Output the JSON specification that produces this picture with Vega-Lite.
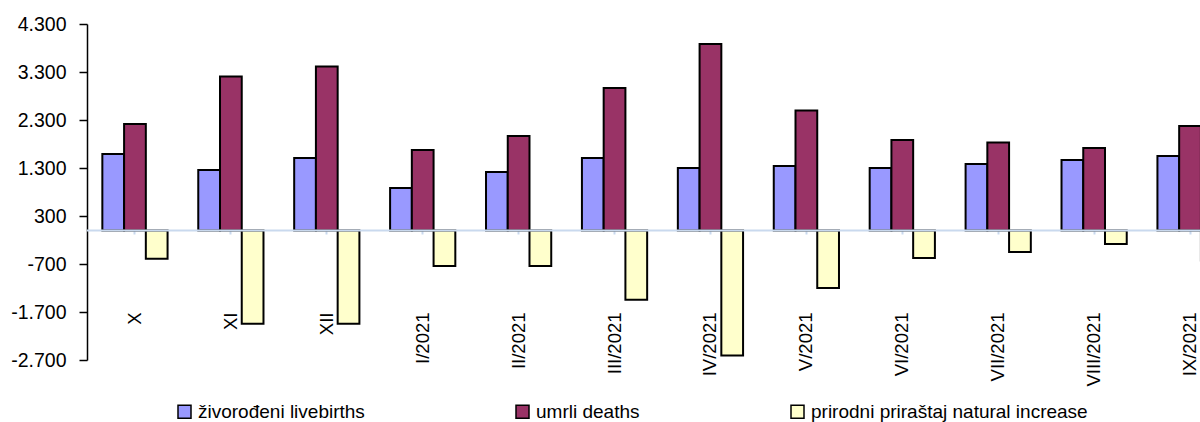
{
  "$schema": "https://vega.github.io/schema/vega-lite/v6.json",
  "width": 1113,
  "height": 336,
  "autosize": {"type": "none"},
  "padding": {"left": 87, "top": 24, "right": 0, "bottom": 62},
  "background": "white",
  "config": {
    "locale": {"number": {"decimal": ",", "thousands": ".", "grouping": [3], "currency": ["", ""], "minus": "-"}},
    "view": {"stroke": null},
    "font": "Liberation Sans"
  },
  "data": {
    "values": [
      {"month": "X", "series": "živorođeni livebirths", "value": 1590},
      {"month": "X", "series": "umrli deaths", "value": 2215},
      {"month": "X", "series": "prirodni priraštaj natural increase", "value": -590},
      {"month": "XI", "series": "živorođeni livebirths", "value": 1256},
      {"month": "XI", "series": "umrli deaths", "value": 3208},
      {"month": "XI", "series": "prirodni priraštaj natural increase", "value": -1944},
      {"month": "XII", "series": "živorođeni livebirths", "value": 1506},
      {"month": "XII", "series": "umrli deaths", "value": 3417},
      {"month": "XII", "series": "prirodni priraštaj natural increase", "value": -1944},
      {"month": "I/2021", "series": "živorođeni livebirths", "value": 881},
      {"month": "I/2021", "series": "umrli deaths", "value": 1673},
      {"month": "I/2021", "series": "prirodni priraštaj natural increase", "value": -743},
      {"month": "II/2021", "series": "živorođeni livebirths", "value": 1215},
      {"month": "II/2021", "series": "umrli deaths", "value": 1965},
      {"month": "II/2021", "series": "prirodni priraštaj natural increase", "value": -743},
      {"month": "III/2021", "series": "živorođeni livebirths", "value": 1506},
      {"month": "III/2021", "series": "umrli deaths", "value": 2965},
      {"month": "III/2021", "series": "prirodni priraštaj natural increase", "value": -1444},
      {"month": "IV/2021", "series": "živorođeni livebirths", "value": 1298},
      {"month": "IV/2021", "series": "umrli deaths", "value": 3881},
      {"month": "IV/2021", "series": "prirodni priraštaj natural increase", "value": -2604},
      {"month": "V/2021", "series": "živorođeni livebirths", "value": 1340},
      {"month": "V/2021", "series": "umrli deaths", "value": 2500},
      {"month": "V/2021", "series": "prirodni priraštaj natural increase", "value": -1202},
      {"month": "VI/2021", "series": "živorođeni livebirths", "value": 1298},
      {"month": "VI/2021", "series": "umrli deaths", "value": 1881},
      {"month": "VI/2021", "series": "prirodni priraštaj natural increase", "value": -577},
      {"month": "VII/2021", "series": "živorođeni livebirths", "value": 1381},
      {"month": "VII/2021", "series": "umrli deaths", "value": 1833},
      {"month": "VII/2021", "series": "prirodni priraštaj natural increase", "value": -452},
      {"month": "VIII/2021", "series": "živorođeni livebirths", "value": 1465},
      {"month": "VIII/2021", "series": "umrli deaths", "value": 1715},
      {"month": "VIII/2021", "series": "prirodni priraštaj natural increase", "value": -285},
      {"month": "IX/2021", "series": "živorođeni livebirths", "value": 1548},
      {"month": "IX/2021", "series": "umrli deaths", "value": 2173},
      {"month": "IX/2021", "series": "prirodni priraštaj natural increase", "value": -625}
    ]
  },
  "layer": [
    {
      "mark": {"type": "bar", "stroke": "black", "strokeWidth": 2, "clip": true},
      "encoding": {
        "x": {
          "field": "month",
          "type": "nominal",
          "sort": ["X", "XI", "XII", "I/2021", "II/2021", "III/2021", "IV/2021", "V/2021", "VI/2021", "VII/2021", "VIII/2021", "IX/2021"],
          "scale": {"range": [0, 1151], "paddingInner": 0.32, "paddingOuter": 0.16},
          "axis": {
            "orient": "bottom",
            "offset": -130,
            "title": null,
            "domain": false,
            "ticks": true,
            "tickColor": "#C9D9EE",
            "tickSize": 4,
            "tickWidth": 2,
            "labelAngle": -90,
            "labelAlign": "right",
            "labelBaseline": "middle",
            "labelPadding": 78,
            "labelFont": "Liberation Sans",
            "labelFontSize": 18.5,
            "labelColor": "black",
            "labelOverlap": false,
            "labelBound": false,
            "labelFlush": false,
            "labelLimit": 0
          }
        },
        "xOffset": {
          "field": "series",
          "sort": ["živorođeni livebirths", "umrli deaths", "prirodni priraštaj natural increase"],
          "scale": {"paddingInner": 0, "paddingOuter": 0}
        },
        "y": {
          "field": "value",
          "type": "quantitative",
          "scale": {"domain": [-2700, 4300], "nice": false, "zero": false},
          "axis": {
            "title": null,
            "values": [-2700, -1700, -700, 300, 1300, 2300, 3300, 4300],
            "format": ",d",
            "grid": false,
            "domain": true,
            "domainColor": "black",
            "domainWidth": 1.5,
            "ticks": true,
            "tickColor": "black",
            "tickSize": 8,
            "tickWidth": 1.5,
            "labelFont": "Liberation Sans",
            "labelFontSize": 19.5,
            "labelColor": "black",
            "labelPadding": 13,
            "labelFlush": false,
            "labelOverlap": false
          }
        },
        "color": {
          "field": "series",
          "type": "nominal",
          "sort": ["živorođeni livebirths", "umrli deaths", "prirodni priraštaj natural increase"],
          "scale": {
            "domain": ["živorođeni livebirths", "umrli deaths", "prirodni priraštaj natural increase"],
            "range": ["#9999FF", "#993366", "#FFFFCC"]
          },
          "legend": {
            "title": null,
            "orient": "none",
            "legendX": 88,
            "legendY": 378,
            "direction": "horizontal",
            "symbolType": "square",
            "symbolSize": 169,
            "symbolStrokeColor": "black",
            "symbolStrokeWidth": 1.5,
            "symbolOpacity": 1,
            "labelFont": "Liberation Sans",
            "labelFontSize": 19,
            "labelColor": "black",
            "labelOffset": 4,
            "labelLimit": 0,
            "columnPadding": 148
          }
        }
      }
    },
    {
      "data": {"values": [{}]},
      "mark": {"type": "rule", "color": "#C9D9EE", "strokeWidth": 2},
      "encoding": {"y": {"datum": 0}}
    }
  ]
}
